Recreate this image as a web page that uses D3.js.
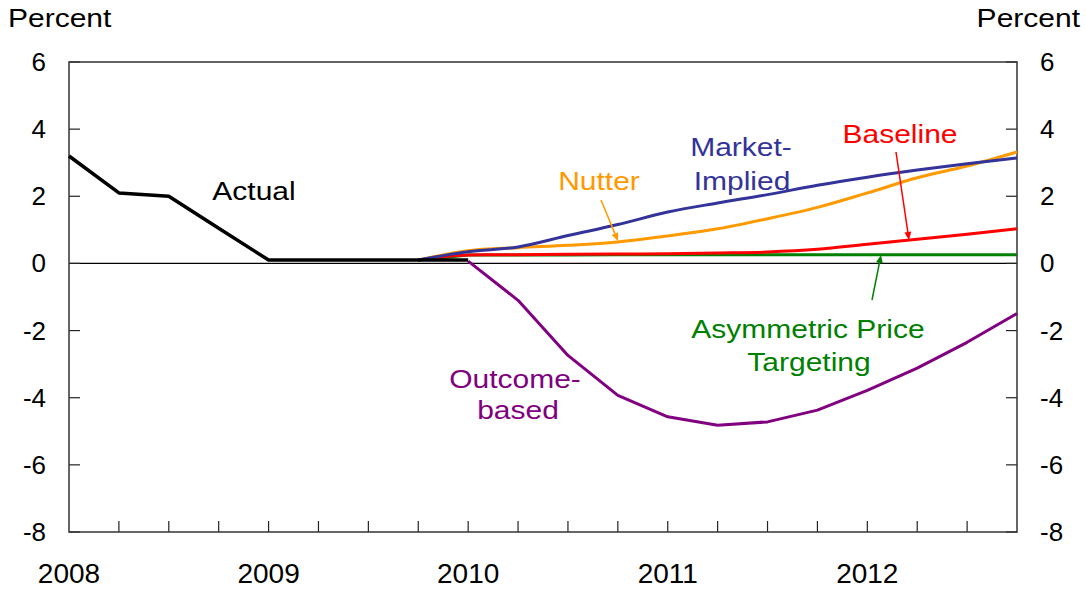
<!DOCTYPE html>
<html>
<head>
<meta charset="utf-8">
<script src="https://cdn.jsdelivr.net/npm/d3@7"></script>
<style>
  body { margin: 0; background: #fff; }
  text { font-family: "Liberation Sans", Arial, sans-serif; }
</style>
</head>
<body>
<div id="chart"></div>
<script>
// quarterly dates as decimal years
const actualDates = [2008, 2008.25, 2008.5, 2008.75, 2009, 2009.25, 2009.5, 2009.75, 2010];
const actualVals = [3.2, 2.1, 2.0, 1.05, 0.1, 0.1, 0.1, 0.1, 0.1];

const projDates = [2009.75, 2010, 2010.25, 2010.5, 2010.75, 2011, 2011.25, 2011.5, 2011.75, 2012, 2012.25, 2012.5, 2012.75];
const marketVals = [0.1, 0.35, 0.49, 0.83, 1.16, 1.53, 1.8, 2.05, 2.33, 2.57, 2.78, 2.97, 3.14];
const nutterVals = [0.1, 0.38, 0.47, 0.54, 0.64, 0.82, 1.03, 1.33, 1.67, 2.1, 2.55, 2.9, 3.32];
const baselineVals = [0.1, 0.25, 0.26, 0.27, 0.28, 0.29, 0.31, 0.34, 0.42, 0.57, 0.72, 0.87, 1.03];
const aptVals = [0.1, 0.25, 0.25, 0.25, 0.26, 0.26, 0.26, 0.26, 0.26, 0.26, 0.26, 0.26, 0.26];

const outcomeDates = [2010, 2010.25, 2010.5, 2010.75, 2011, 2011.25, 2011.5, 2011.75, 2012, 2012.25, 2012.5, 2012.75];
const outcomeVals = [0.07, -1.1, -2.74, -3.93, -4.57, -4.82, -4.72, -4.37, -3.78, -3.12, -2.35, -1.49];

const yTicks = [6, 4, 2, 0, -2, -4, -6, -8];
const yearTicks = [2008, 2009, 2010, 2011, 2012];
const quarterTicks = d3.range(2008.25, 2012.75, 0.25);

const width = 1086, height = 592;
const margin = {left: 69, right: 69, top: 62, bottom: 60};

const svg = d3.select("#chart").append("svg")
    .attr("width", width)
    .attr("height", height);

const x = d3.scaleLinear().domain([2008, 2012.75]).range([margin.left, width - margin.right]);
const y = d3.scaleLinear().domain([-8, 6]).range([height - margin.bottom, margin.top]);

// zero line
svg.append("line")
    .attr("x1", x(2008)).attr("x2", x(2012.75))
    .attr("y1", y(0)).attr("y2", y(0))
    .attr("stroke", "#000").attr("stroke-width", 1.2);

// ticks (inward)
svg.append("g").selectAll("line").data(yTicks).enter().append("line")
    .attr("x1", x(2008)).attr("x2", x(2008) + 11)
    .attr("y1", d => y(d)).attr("y2", d => y(d))
    .attr("stroke", "#222").attr("stroke-width", 1.2);
svg.append("g").selectAll("line").data(yTicks).enter().append("line")
    .attr("x1", x(2012.75)).attr("x2", x(2012.75) - 11)
    .attr("y1", d => y(d)).attr("y2", d => y(d))
    .attr("stroke", "#222").attr("stroke-width", 1.2);
svg.append("g").selectAll("line").data(quarterTicks).enter().append("line")
    .attr("x1", d => x(d)).attr("x2", d => x(d))
    .attr("y1", y(-8)).attr("y2", y(-8) - 11)
    .attr("stroke", "#222").attr("stroke-width", 1.2);

// frame
svg.append("rect")
    .attr("x", x(2008)).attr("y", y(6))
    .attr("width", x(2012.75) - x(2008)).attr("height", y(-8) - y(6))
    .attr("fill", "none").attr("stroke", "#333").attr("stroke-width", 1.5);

// tick labels
svg.append("g").selectAll("text").data(yTicks).enter().append("text")
    .attr("x", 46).attr("y", d => y(d) + 9)
    .attr("text-anchor", "end").attr("font-size", 26)
    .text(d => d);
svg.append("g").selectAll("text").data(yTicks).enter().append("text")
    .attr("x", 1040).attr("y", d => y(d) + 9)
    .attr("text-anchor", "start").attr("font-size", 26)
    .text(d => d);
svg.append("g").selectAll("text").data(yearTicks).enter().append("text")
    .attr("x", d => x(d)).attr("y", 583)
    .attr("text-anchor", "middle").attr("font-size", 28)
    .text(d => d);

svg.append("text").attr("transform", "translate(8,27) scale(1.2,1)")
    .attr("font-size", 25).text("Percent");
svg.append("text").attr("transform", "translate(1080,27) scale(1.2,1)")
    .attr("font-size", 25).attr("text-anchor", "end").text("Percent");

const line = d3.line().x(d => x(d[0])).y(d => y(d[1]));
const smooth = d3.line().x(d => x(d[0])).y(d => y(d[1])).curve(d3.curveMonotoneX);
const series = [
    {dates: projDates, vals: aptVals, color: "#008000", gen: line, w: 3},
    {dates: projDates, vals: baselineVals, color: "#ff0000", gen: smooth, w: 3},
    {dates: projDates, vals: nutterVals, color: "#ff9900", gen: smooth, w: 3},
    {dates: projDates, vals: marketVals, color: "#333399", gen: smooth, w: 3},
    {dates: outcomeDates, vals: outcomeVals, color: "#800080", gen: line, w: 3},
    {dates: actualDates, vals: actualVals, color: "#000000", gen: line, w: 3.5}
];
svg.append("g").selectAll("path").data(series).enter().append("path")
    .attr("d", s => s.gen(d3.zip(s.dates, s.vals)))
    .attr("fill", "none")
    .attr("stroke", s => s.color)
    .attr("stroke-width", s => s.w)
    .attr("stroke-linejoin", "round");

// labels
const labels = [
    {t: "Actual", x: 254, y: 200, c: "#000"},
    {t: "Nutter", x: 599, y: 190, c: "#ff9900"},
    {t: "Market-", x: 741, y: 156, c: "#333399"},
    {t: "Implied", x: 742, y: 190, c: "#333399"},
    {t: "Baseline", x: 900, y: 143, c: "#ff0000"},
    {t: "Asymmetric Price", x: 808, y: 338, c: "#008000"},
    {t: "Targeting", x: 809, y: 371, c: "#008000"},
    {t: "Outcome-", x: 515, y: 388, c: "#800080"},
    {t: "based", x: 518, y: 419, c: "#800080"}
];
svg.append("g").selectAll("text").data(labels).enter().append("text")
    .attr("transform", d => `translate(${d.x},${d.y}) scale(1.2,1)`)
    .attr("text-anchor", "middle").attr("font-size", 25)
    .attr("fill", d => d.c)
    .text(d => d.t);

// arrows
const arrows = [
    {x1: 601, y1: 200, x2: 618, y2: 241, c: "#ff9900"},
    {x1: 896, y1: 152, x2: 909, y2: 240, c: "#ff0000"},
    {x1: 872, y1: 300, x2: 881, y2: 255, c: "#008000"}
];
const ag = svg.append("g");
arrows.forEach(a => {
    const ang = Math.atan2(a.y2 - a.y1, a.x2 - a.x1);
    const L = 8, W = 3.5;
    const bx = a.x2 - L * Math.cos(ang), by = a.y2 - L * Math.sin(ang);
    ag.append("line")
        .attr("x1", a.x1).attr("y1", a.y1).attr("x2", bx).attr("y2", by)
        .attr("stroke", a.c).attr("stroke-width", 1.5);
    ag.append("path")
        .attr("d", `M${a.x2},${a.y2}L${bx - W * Math.sin(ang)},${by + W * Math.cos(ang)}L${bx + W * Math.sin(ang)},${by - W * Math.cos(ang)}Z`)
        .attr("fill", a.c);
});
</script>
</body>
</html>
